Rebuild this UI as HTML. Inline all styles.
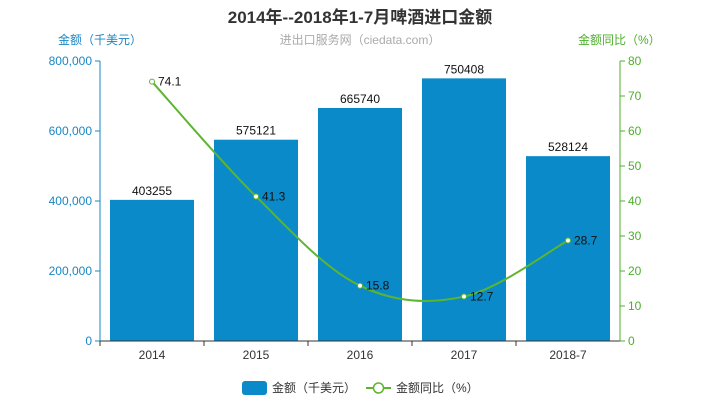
<!DOCTYPE html>
<html><head><meta charset="utf-8"><style>
body{margin:0;background:#fff;width:720px;height:400px;overflow:hidden}
svg{font-family:"Liberation Sans","Noto Sans CJK SC",sans-serif}
</style></head><body>
<svg width="720" height="400">
<text x="360" y="23" text-anchor="middle" font-size="17" font-weight="bold" fill="#333">2014年--2018年1-7月啤酒进口金额</text>
<text x="360" y="44" text-anchor="middle" font-size="12" fill="#aaa">进出口服务网（ciedata.com）</text>
<text x="58" y="44" font-size="12" fill="#1a86c4">金额（千美元）</text>
<text x="578" y="44" font-size="12" fill="#4caf2a">金额同比（%）</text>
<g id="g"></g>
<g>
<rect x="242" y="381" width="25" height="14" rx="3" fill="#0a8ac8"/>
<text x="272" y="392" font-size="12" fill="#333">金额（千美元）</text>
<line x1="366" y1="388" x2="391" y2="388" stroke="#5db52f" stroke-width="2"/>
<circle cx="378.5" cy="388" r="5" fill="#fff" stroke="#5db52f" stroke-width="1.5"/>
<text x="396" y="392" font-size="12" fill="#333">金额同比（%）</text>
</g>
</svg>
<script>
const categories=["2014","2015","2016","2017","2018-7"];
const amounts=[403255,575121,665740,750408,528124];
const growth=[74.1,41.3,15.8,12.7,28.7];
const leftTicks=[0,200000,400000,600000,800000];
const rightTicks=[0,10,20,30,40,50,60,70,80];
const X0=100,X1=620,Y0=341,Y1=61;
const NS="http://www.w3.org/2000/svg";
const g=document.getElementById('g');
function mk(t,a,txt){const e=document.createElementNS(NS,t);for(const k in a)e.setAttribute(k,a[k]);if(txt!==undefined)e.textContent=txt;g.appendChild(e);return e;}
const band=(X1-X0)/categories.length;
const xc=i=>X0+band*(i+0.5);
const yl=v=>Y0-(v/800000)*(Y0-Y1);
const yr=v=>Y0-(v/80)*(Y0-Y1);
let e;
leftTicks.forEach(t=>{
e=mk('line',{x1:X0-5,x2:X0,y1:yl(t),y2:yl(t),stroke:'#1a86c4'});

e=mk('text',{x:X0-8,y:yl(t)+4,'text-anchor':'end','font-size':12,fill:'#1a86c4'},t.toLocaleString('en-US'));

});
rightTicks.forEach(t=>{
e=mk('line',{x1:X1,x2:X1+5,y1:yr(t),y2:yr(t),stroke:'#4caf2a'});

e=mk('text',{x:X1+8,y:yr(t)+4,'font-size':12,fill:'#4caf2a'},t);

});
categories.forEach((c,i)=>{
const bw=84;
e=mk('rect',{x:xc(i)-bw/2,y:yl(amounts[i]),width:bw,height:Y0-yl(amounts[i]),fill:'#0a8ac8'});

e=mk('text',{x:xc(i),y:yl(amounts[i])-5,'text-anchor':'middle','font-size':12,fill:'#111'},amounts[i]);

e=mk('text',{x:xc(i),y:Y0+18,'text-anchor':'middle','font-size':12,fill:'#333'},c);

e=mk('line',{x1:X0+band*i,x2:X0+band*i,y1:Y0,y2:Y0+5,stroke:'#333'});

});
e=mk('line',{x1:X0,x2:X1,y1:Y0,y2:Y0,stroke:'#333'});

e=mk('line',{x1:X0,x2:X0,y1:Y1,y2:Y0,stroke:'#1a86c4'});

e=mk('line',{x1:X1,x2:X1,y1:Y1,y2:Y0,stroke:'#4caf2a'});

const pts=growth.map((v,i)=>[xc(i),yr(v)]);
let d='M'+pts[0][0]+','+pts[0][1];
for(let i=0;i<pts.length-1;i++){
const p0=pts[Math.max(0,i-1)],p1=pts[i],p2=pts[i+1],p3=pts[Math.min(pts.length-1,i+2)];
const k=0.17;
d+=' C'+(p1[0]+(p2[0]-p0[0])*k)+','+(p1[1]+(p2[1]-p0[1])*k)+' '+(p2[0]-(p3[0]-p1[0])*k)+','+(p2[1]-(p3[1]-p1[1])*k)+' '+p2[0]+','+p2[1];
}
e=mk('path',{d:d,fill:'none',stroke:'#5db52f','stroke-width':2});

pts.forEach((p,i)=>{
e=mk('circle',{cx:p[0],cy:p[1],r:2.5,fill:'#fff',stroke:'#5db52f','stroke-width':1});

e=mk('text',{x:p[0]+6,y:p[1]+4,'font-size':12,fill:'#111'},growth[i]);

});
</script>
</body></html>
